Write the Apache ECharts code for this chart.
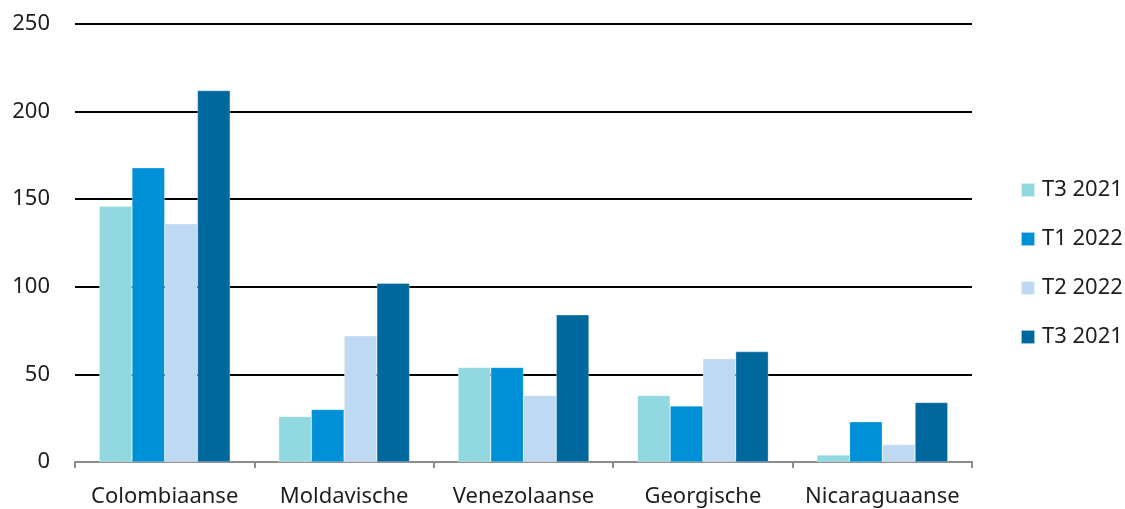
<!DOCTYPE html>
<html>
<head>
<meta charset="utf-8">
<script src="https://cdn.jsdelivr.net/npm/echarts@6/dist/echarts.min.js"></script>
<style>
  html, body { margin: 0; padding: 0; background: #fff; }
  #chart { width: 1125px; height: 509px; }
</style>
</head>
<body>
<div id="chart"></div>
<script>
// Données
var categories = ['Colombiaanse', 'Moldavische', 'Venezolaanse', 'Georgische', 'Nicaraguaanse'];
var seriesNames = ['T3 2021', 'T1 2022', 'T2 2022', 'T3 2021'];
var t3_2021a = [146, 26, 54, 38, 4];
var t1_2022 = [168, 30, 54, 32, 23];
var t2_2022 = [136, 72, 38, 59, 10];
var t3_2021b = [212, 102, 84, 63, 34];
var yTicks = [0, 50, 100, 150, 200, 250];

var colors = ['#92D8E1', '#0090D8', '#BED9F1', '#00689C'];
var values = [t3_2021a, t1_2022, t2_2022, t3_2021b];

var chart = echarts.init(document.getElementById('chart'));

// noms uniques pour la légende (deux fois "T3 2021")
var series = values.map(function(v, i) {
    return {
        name: seriesNames[i] + '#' + i,
        type: 'bar',
        data: v,
        barGap: '0%',
        barCategoryGap: '27%',
        itemStyle: { color: colors[i], borderColor: 'rgba(255,255,255,0.6)', borderWidth: 0.5 }
    };
});

var option = {
    animation: false,
    textStyle: { fontFamily: 'Noto Sans' },
    grid: { left: 75, right: 153, top: 24, bottom: 47 },
    legend: {
        orient: 'vertical',
        left: 1015,
        top: 174,
        itemWidth: 14,
        itemHeight: 14,
        itemGap: 27,
        icon: 'rect',
        data: series.map(function(s) { return s.name; }),
        formatter: function(name) { return name.split('#')[0]; },
        textStyle: { fontSize: 22, color: '#1e1e1e', fontFamily: 'Noto Sans', padding: [0, 0, 0, 2] }
    },
    xAxis: {
        type: 'category',
        data: categories,
        axisLine: { lineStyle: { color: '#8c8c8c', width: 2 } },
        axisTick: { show: true, length: 6, lineStyle: { color: '#8c8c8c', width: 2 } },
        axisLabel: { fontSize: 22, color: '#1e1e1e', margin: 24, interval: 0 }
    },
    yAxis: {
        type: 'value',
        min: yTicks[0],
        max: yTicks[yTicks.length - 1],
        interval: 50,
        axisLine: { show: false },
        axisTick: { show: false },
        axisLabel: { fontSize: 22, color: '#1e1e1e', margin: 25 },
        splitLine: { lineStyle: { color: '#000', width: 2 } }
    },
    series: series
};

chart.setOption(option);
</script>
</body>
</html>
